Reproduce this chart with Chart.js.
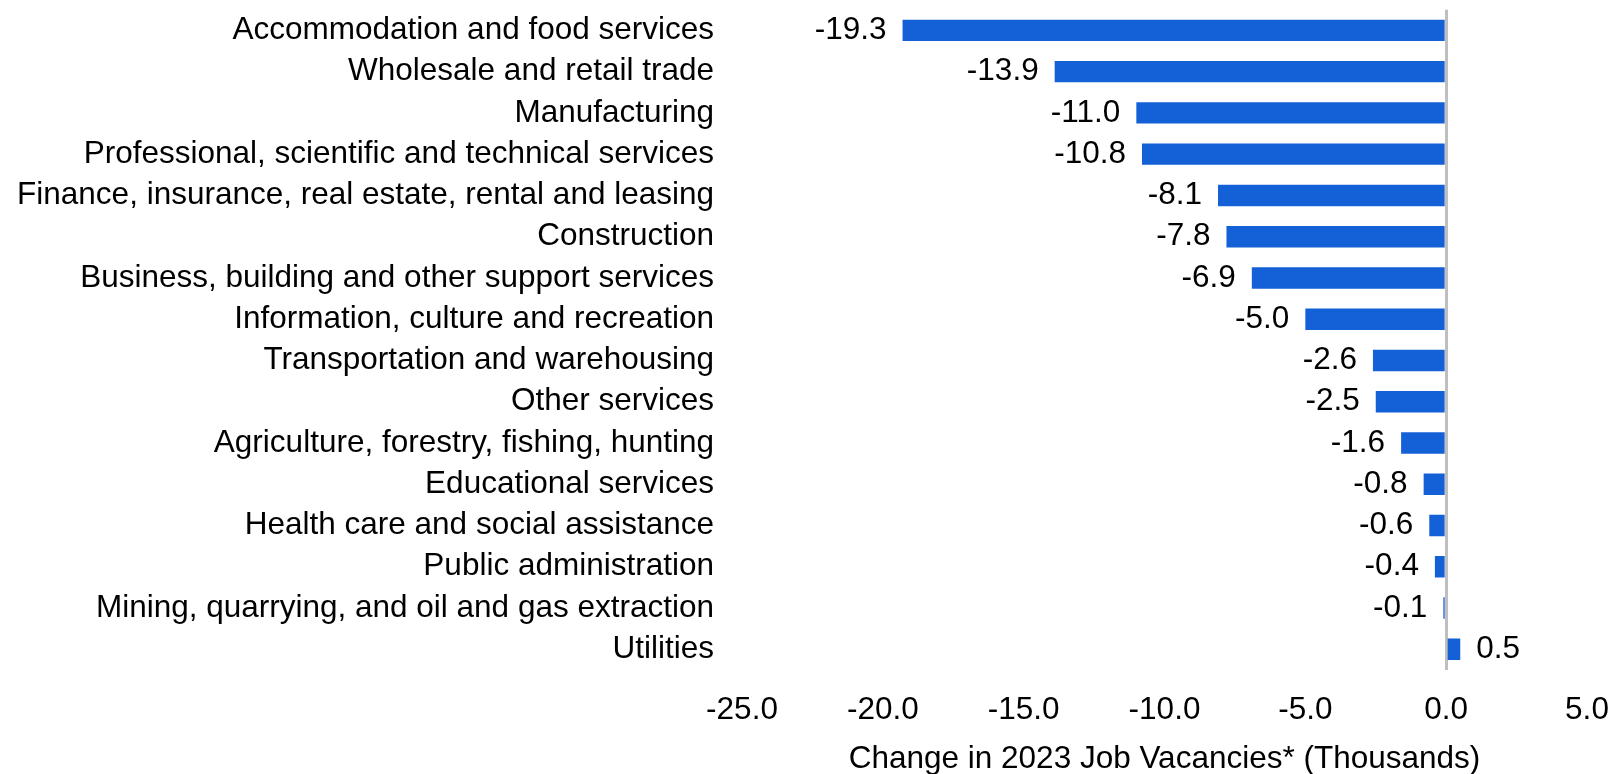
<!DOCTYPE html>
<html>
<head>
<meta charset="utf-8">
<script src="https://cdn.jsdelivr.net/npm/chart.js@4"></script>
<style>
  html, body { margin: 0; padding: 0; background: #fff; }
  #wrap { width: 1610px; height: 774px; }
</style>
</head>
<body>
<div id="wrap"><canvas id="vacancies"></canvas></div>
<script>
// Industries, top to bottom
const industries = [
    'Accommodation and food services',
    'Wholesale and retail trade',
    'Manufacturing',
    'Professional, scientific and technical services',
    'Finance, insurance, real estate, rental and leasing',
    'Construction',
    'Business, building and other support services',
    'Information, culture and recreation',
    'Transportation and warehousing',
    'Other services',
    'Agriculture, forestry, fishing, hunting',
    'Educational services',
    'Health care and social assistance',
    'Public administration',
    'Mining, quarrying, and oil and gas extraction',
    'Utilities'
];
// Change in job vacancies (thousands)
const changes = [-19.3, -13.9, -11.0, -10.8, -8.1, -7.8, -6.9, -5.0, -2.6, -2.5, -1.6, -0.8, -0.6, -0.4, -0.1, 0.5];
// X axis range
const xMin = -25;
const xMax = 5;
const xStep = 5;

const font = "'Liberation Sans', Arial, sans-serif";
const fontSize = 31.5;

// Draw the value next to each bar end
const valueLabels = {
    id: 'valueLabels',
    afterDatasetsDraw(chart) {
        const ctx = chart.ctx;
        const meta = chart.getDatasetMeta(0);
        ctx.save();
        ctx.font = fontSize + 'px ' + font;
        ctx.fillStyle = '#000';
        ctx.textBaseline = 'middle';
        meta.data.forEach((bar, i) => {
            const v = changes[i];
            if (v < 0) {
                ctx.textAlign = 'right';
                ctx.fillText(v.toFixed(1), bar.x - 16, bar.y);
            } else {
                ctx.textAlign = 'left';
                ctx.fillText(v.toFixed(1), bar.x + 16, bar.y);
            }
        });
        ctx.restore();
    }
};

const canvas = document.getElementById('vacancies');
const chart = new Chart(canvas, {
    type: 'bar',
    data: {
        labels: industries,
        datasets: [{
            data: changes,
            backgroundColor: '#1461D7',
            borderWidth: 0,
            barPercentage: 0.52,
            categoryPercentage: 1
        }]
    },
    options: {
        indexAxis: 'y',
        responsive: true,
        maintainAspectRatio: false,
        animation: false,
        layout: { padding: { top: 0, right: 23, bottom: 0, left: 0 } },
        plugins: {
            legend: { display: false },
            tooltip: { enabled: false }
        },
        scales: {
            x: {
                min: xMin,
                max: xMax,
                ticks: {
                    stepSize: xStep,
                    color: '#000',
                    font: { family: font, size: fontSize, lineHeight: 1 },
                    padding: 0,
                    maxRotation: 0,
                    callback: v => v.toFixed(1)
                },
                grid: {
                    drawTicks: true,
                    tickLength: 25,
                    tickColor: 'rgba(0,0,0,0)',
                    lineWidth: ctx => ctx.tick && ctx.tick.value === 0 ? 3 : 0,
                    color: ctx => ctx.tick && ctx.tick.value === 0 ? '#BFBFBF' : 'rgba(0,0,0,0)'
                },
                border: { display: false },
                title: {
                    display: true,
                    text: 'Change in 2023 Job Vacancies* (Thousands)',
                    color: '#000',
                    font: { family: font, size: fontSize, lineHeight: 1.1 },
                    padding: { top: 16, bottom: -3 }
                }
            },
            y: {
                afterFit: scale => { scale.width = 742; },
                ticks: {
                    color: '#000',
                    font: { family: font, size: fontSize, lineHeight: 1 },
                    padding: -6,
                    autoSkip: false
                },
                grid: { display: false, drawTicks: true, tickLength: 34 },
                border: { display: false }
            }
        }
    },
    plugins: [valueLabels]
});
</script>
</body>
</html>
